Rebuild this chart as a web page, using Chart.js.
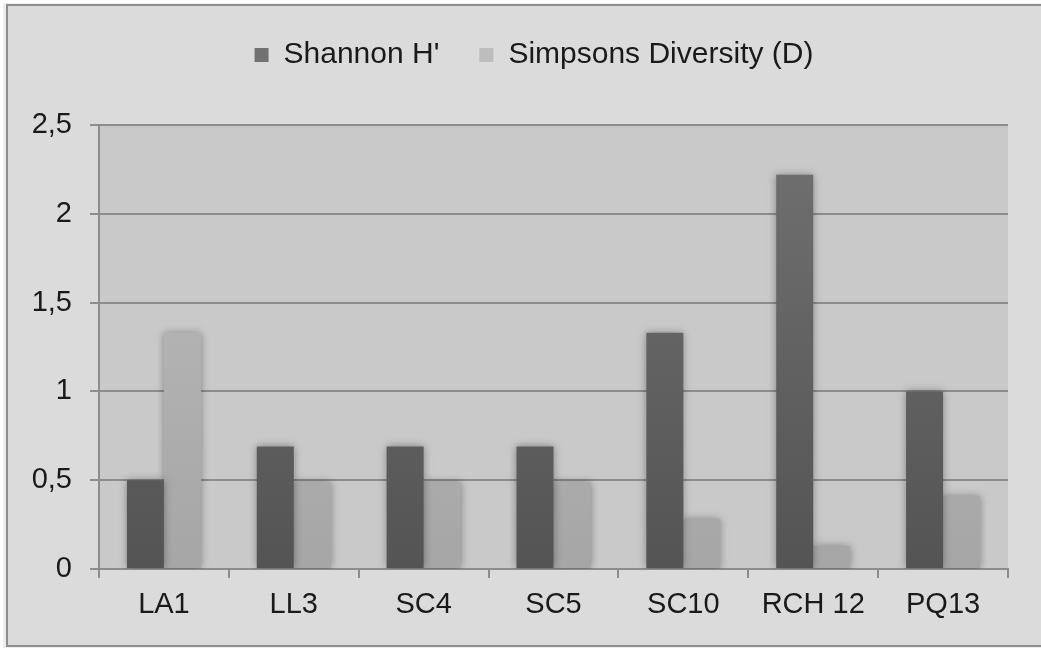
<!DOCTYPE html>
<html>
<head>
<meta charset="utf-8">
<script src="https://cdn.jsdelivr.net/npm/chart.js@4.4.1/dist/chart.umd.min.js"></script>
<style>
  html, body { margin: 0; padding: 0; background: #ffffff; }
  #wrap { width: 1041px; height: 648px; position: relative; }
</style>
</head>
<body>
<div id="wrap"><canvas id="c" width="1041" height="648"></canvas></div>
<script>
const categories = ['LA1', 'LL3', 'SC4', 'SC5', 'SC10', 'RCH 12', 'PQ13'];
const shannonValues = [0.50, 0.69, 0.69, 0.69, 1.33, 2.22, 1.00];
const simpsonValues = [1.33, 0.49, 0.49, 0.49, 0.28, 0.13, 0.41];
const seriesNames = ["Shannon H'", 'Simpsons Diversity (D)'];

const FONT = "'Liberation Sans', Arial, sans-serif";

function vGrad(ctx, area, top, bottom) {
  if (!area) return bottom;
  const g = ctx.createLinearGradient(0, area.top, 0, area.bottom);
  g.addColorStop(0, top);
  g.addColorStop(1, bottom);
  return g;
}

const framePlugin = {
  id: 'frame',
  beforeDraw(chart) {
    const ctx = chart.ctx;
    ctx.save();
    ctx.fillStyle = '#ffffff';
    ctx.fillRect(0, 0, chart.width, chart.height);
    ctx.fillStyle = '#eeeeee';
    ctx.fillRect(3, 3, chart.width, chart.height - 1);
    ctx.fillStyle = '#dbdbdb';
    ctx.fillRect(7, 5, chart.width, 641);
    ctx.strokeStyle = '#8e8e8e';
    ctx.lineWidth = 2;
    ctx.strokeRect(7, 5, chart.width + 20, 641);
    const a = chart.chartArea;
    ctx.fillStyle = '#c9c9c9';
    ctx.fillRect(a.left, a.top, a.right - a.left, a.bottom - a.top);
    ctx.restore();
  }
};

const shadowPlugin = {
  id: 'barShadow',
  beforeDatasetsDraw(chart) {
    const ctx = chart.ctx;
    ctx.save();
    ctx.shadowColor = 'rgba(0,0,0,0.35)';
    ctx.shadowBlur = 8;
    ctx.shadowOffsetX = 0;
    ctx.shadowOffsetY = 0;
  },
  afterDatasetsDraw(chart) {
    chart.ctx.restore();
  }
};

const legendPlugin = {
  id: 'legendFit',
  beforeInit(chart) {
    const lg = chart.legend;
    if (!lg) return;
    const origFit = lg.fit;
    lg.fit = function () {
      origFit.call(this);
      this.height = 125;
    };
  },
  afterLayout(chart) {
    const lg = chart.legend;
    if (lg) { lg.left += 15; lg.right += 15; }
  }
};

new Chart(document.getElementById('c'), {
  type: 'bar',
  data: {
    labels: categories,
    datasets: [
      {
        label: seriesNames[0],
        data: shannonValues,
        backgroundColor: (c) => vGrad(c.chart.ctx, c.chart.chartArea, '#717171', '#545454'),
        borderWidth: 0,
        categoryPercentage: 0.57,
        barPercentage: 1.0
      },
      {
        label: seriesNames[1],
        data: simpsonValues,
        backgroundColor: (c) => vGrad(c.chart.ctx, c.chart.chartArea, '#bdbdbd', '#a6a6a6'),
        borderWidth: 0,
        categoryPercentage: 0.57,
        barPercentage: 1.0
      }
    ]
  },
  options: {
    responsive: false,
    animation: false,
    devicePixelRatio: 1,
    layout: { padding: { left: 30, right: 33, top: 0, bottom: 10 } },
    plugins: {
      legend: {
        position: 'top',
        labels: {
          boxWidth: 14,
          boxHeight: 14,
          padding: 40,
          color: '#1a1a1a',
          font: { family: FONT, size: 30 }
        }
      },
      tooltip: { enabled: false }
    },
    scales: {
      x: {
        grid: {
          display: true,
          drawOnChartArea: false,
          drawTicks: true,
          tickLength: 9,
          color: '#8c8c8c',
          lineWidth: 2
        },
        border: { display: true, color: '#8c8c8c', width: 2 },
        ticks: {
          color: '#1a1a1a',
          padding: 10,
          font: { family: FONT, size: 29 }
        },
        afterFit(s) { s.height = 69; }
      },
      y: {
        min: 0,
        max: 2.5,
        ticks: {
          stepSize: 0.5,
          color: '#1a1a1a',
          padding: 18,
          font: { family: FONT, size: 29 },
          callback: (v) => String(v).replace('.', ',')
        },
        grid: {
          color: '#8c8c8c',
          lineWidth: 2,
          tickLength: 9
        },
        border: { display: true, color: '#8c8c8c', width: 2 },
        afterFit(s) { s.width = 69; }
      }
    }
  },
  plugins: [framePlugin, shadowPlugin, legendPlugin]
});
</script>
</body>
</html>
